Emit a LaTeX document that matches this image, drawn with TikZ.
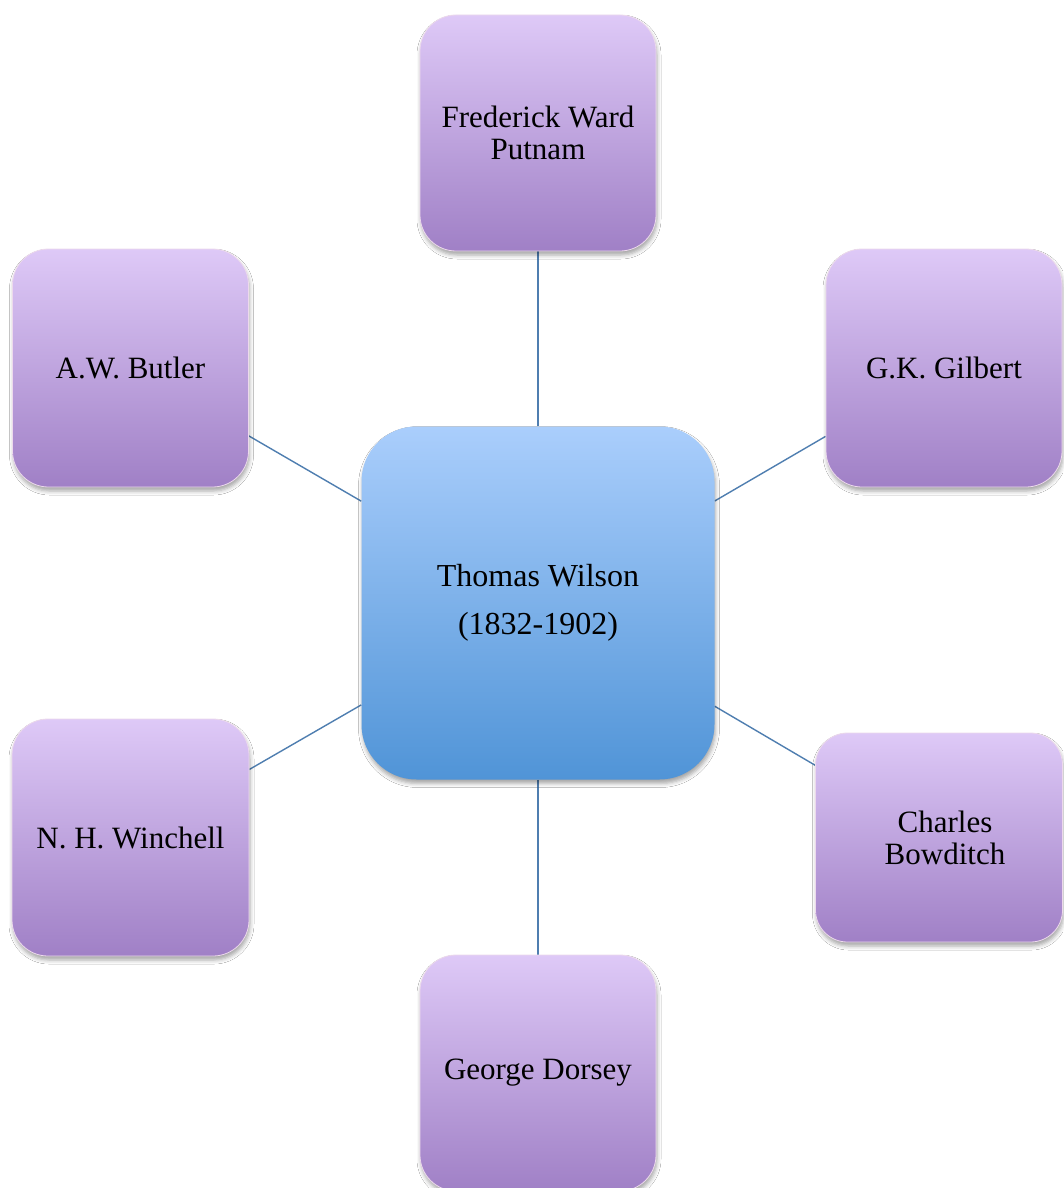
\documentclass[tikz,border=0pt]{standalone}
\usepackage{fontspec}
\setmainfont{Liberation Serif}
\usetikzlibrary{shadows.blur,backgrounds}
\begin{document}
\begin{tikzpicture}[x=1pt,y=-1pt,
  person/.style={rectangle, rounded corners=36pt, draw=white!85!violet, line width=0.8pt,
    top color={rgb,255:red,222;green,201;blue,247}, bottom color={rgb,255:red,160;green,128;blue,198},
    minimum width=236pt, minimum height=236pt, align=center, inner sep=4pt,
    font=\fontsize{31}{32}\selectfont, text=black,
    blur shadow={shadow xshift=1pt, shadow yshift=-4pt, shadow blur radius=4pt, shadow opacity=35}},
  hub/.style={rectangle, rounded corners=55pt, draw=none,
    top color={rgb,255:red,170;green,206;blue,252}, bottom color={rgb,255:red,80;green,148;blue,215},
    minimum width=353pt, minimum height=353pt, align=center,
    font=\fontsize{32}{48}\selectfont, text=black,
    blur shadow={shadow xshift=1pt, shadow yshift=-4pt, shadow blur radius=4pt, shadow opacity=35}},
  link/.style={draw={rgb,255:red,79;green,126;blue,176}, line width=1.4pt}]
\useasboundingbox (0,0) rectangle (1063,1188);
\node[hub] (c) at (538,603) {\raisebox{-6pt}{\parbox{300pt}{\centering Thomas Wilson\\(1832-1902)}}};
\node[person] (fwp) at (538,133) {Frederick Ward\\Putnam};
\node[person, minimum height=238pt] (awb) at (130.5,368) {A.W. Butler};
\node[person, minimum height=238pt] (gkg) at (944,368) {G.K. Gilbert};
\node[person, minimum width=237pt, minimum height=237pt] (nhw) at (130.5,837.5) {N. H. Winchell};
\node[person, minimum width=247pt, minimum height=209pt, rounded corners=32pt] (cb) at (939,837.5) {\hspace*{12pt}Charles\\\hspace*{12pt}Bowditch};
\node[person] (gd) at (538,1073) {George Dorsey};
\begin{scope}[on background layer]
\fill[white] (0,0) rectangle (1063,1188);
\draw[link] (c) -- (fwp);
\draw[link] (c) -- (awb);
\draw[link] (c) -- (gkg);
\draw[link] (c) -- (nhw);
\draw[link] (c) -- (cb);
\draw[link] (c) -- (gd);
\end{scope}
\end{tikzpicture}
\end{document}
